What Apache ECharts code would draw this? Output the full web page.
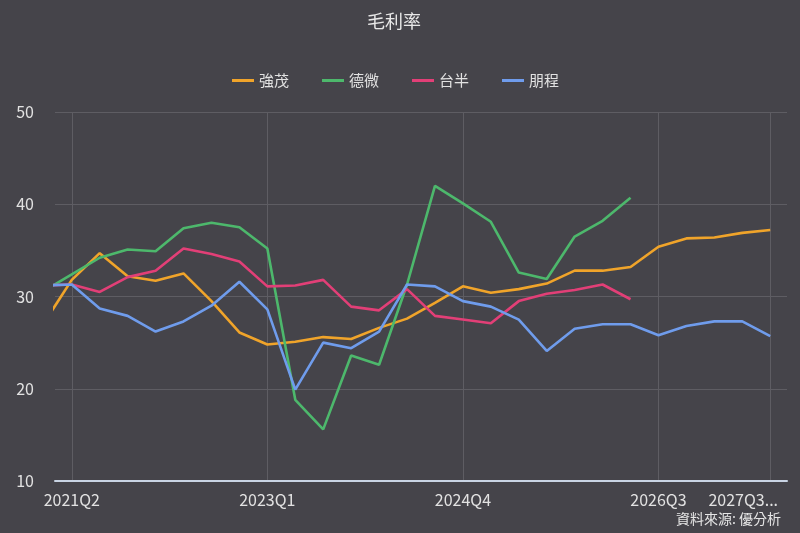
<!DOCTYPE html>
<html>
<head>
<meta charset="utf-8">
<script src="https://cdn.jsdelivr.net/npm/echarts@6/dist/echarts.min.js"></script>
<style>
    html, body { margin: 0; padding: 0; background: #45444a; }
    #chart { width: 800px; height: 533px; }
</style>
</head>
<body>
<div id="chart"></div>
<script>
    // quarters, the first one (2021Q1) sits just left of the axis start and gets clipped
    var quarters = [
        '2021Q1', '2021Q2', '2021Q3', '2021Q4',
        '2022Q1', '2022Q2', '2022Q3', '2022Q4',
        '2023Q1', '2023Q2', '2023Q3', '2023Q4',
        '2024Q1', '2024Q2', '2024Q3', '2024Q4',
        '2025Q1', '2025Q2', '2025Q3', '2025Q4',
        '2026Q1', '2026Q2', '2026Q3', '2026Q4',
        '2027Q1', '2027Q2', '2027Q3'
    ];
    var seriesNames = ['強茂', '德微', '台半', '朋程'];
    var panjit = [27.1, 31.8, 34.7, 32.2, 31.7, 32.5, 29.5, 26.1, 24.8, 25.1, 25.6, 25.4, 26.6, 27.6,
        29.3, 31.1, 30.4, 30.8, 31.4, 32.8, 32.8, 33.2, 35.4, 36.3, 36.4, 36.9, 37.2];
    var diodes = [30.6, 32.4, 34.2, 35.1, 34.9, 37.4, 38.0, 37.5, 35.2, 18.8, 15.6, 23.6, 22.6, 31.3,
        42.0, 40.1, 38.1, 32.6, 31.9, 36.5, 38.2, 40.7, null, null, null, null, null];
    var taiwanSemi = [31.2, 31.3, 30.5, 32.1, 32.8, 35.2, 34.6, 33.8, 31.1, 31.2, 31.8, 28.9, 28.5, 30.8,
        27.9, 27.5, 27.1, 29.5, 30.3, 30.7, 31.3, 29.7, null, null, null, null, null];
    var actron = [31.2, 31.3, 28.7, 27.9, 26.2, 27.3, 29.0, 31.6, 28.6, 19.9, 25.0, 24.4, 26.2, 31.3,
        31.1, 29.5, 28.9, 27.5, 24.1, 26.5, 27.0, 27.0, 25.8, 26.8, 27.3, 27.3, 25.7];
    var xTickQuarters = ['2021Q2', '2023Q1', '2024Q4', '2026Q3', '2027Q3'];
    var xTickLabels = ['2021Q2', '2023Q1', '2024Q4', '2026Q3', '2027Q3...'];
    var yTicks = [10, 20, 30, 40, 50];
    var colors = ['#f0a42a', '#4db86c', '#e23f77', '#6f9cec'];

    var origin = quarters.indexOf('2021Q2');
    var tickPos = xTickQuarters.map(function (q) { return quarters.indexOf(q) - origin; });
    var lastPos = tickPos[tickPos.length - 1];

    function toPoints(values) {
        var pts = [];
        values.forEach(function (v, i) {
            if (v != null) pts.push([i - origin, v]);
        });
        return pts;
    }

    var allValues = [panjit, diodes, taiwanSemi, actron];
    var chart = echarts.init(document.getElementById('chart'));
    var font = '"Noto Sans CJK TC", "Noto Sans", sans-serif';

    var option = {
        backgroundColor: '#45444a',
        color: colors,
        textStyle: {fontFamily: font},
        title: [{
            text: '毛利率',
            left: 362,
            top: 7,
            textStyle: {color: '#e8e8e8', fontSize: 18, fontWeight: 'normal', fontFamily: font}
        }, {
            text: '資料來源: 優分析',
            right: 14,
            bottom: 2,
            textStyle: {color: '#e6e6e6', fontSize: 14, fontWeight: 'normal', fontFamily: font}
        }],
        legend: {
            data: seriesNames,
            top: 68,
            left: 227,
            icon: 'rect',
            itemWidth: 22,
            itemHeight: 3,
            itemGap: 33,
            textStyle: {color: '#e2e2e2', fontSize: 15, fontFamily: font}
        },
        grid: {left: 55, right: 13, top: 112, bottom: 52},
        xAxis: {
            type: 'value',
            min: -0.6,
            max: 25.6,
            axisLine: {show: true, onZero: false, lineStyle: {color: '#c9d4e4', width: 2}},
            axisTick: {show: false, customValues: tickPos},
            axisLabel: {
                customValues: tickPos,
                color: '#e2e2e2',
                fontSize: 16,
                margin: 11,
                fontFamily: font,
                formatter: function (v) {
                    var k = tickPos.indexOf(Math.round(v));
                    if (k < 0) return '';
                    if (tickPos[k] === lastPos) return '{last|' + xTickLabels[k] + '}';
                    return xTickLabels[k];
                },
                rich: {
                    last: {padding: [0, 54, 0, 0], fontSize: 16, color: '#e2e2e2', fontFamily: font}
                }
            },
            splitLine: {show: true, lineStyle: {color: '#5e5d63', width: 1}}
        },
        yAxis: {
            type: 'value',
            min: yTicks[0],
            max: yTicks[yTicks.length - 1],
            interval: 10,
            axisLine: {show: false},
            axisTick: {show: false},
            axisLabel: {color: '#e2e2e2', fontSize: 16, margin: 21, fontFamily: font},
            splitLine: {lineStyle: {color: '#5e5d63', width: 1}}
        },
        series: seriesNames.map(function (name, k) {
            return {
                name: name,
                type: 'line',
                data: toPoints(allValues[k]),
                showSymbol: false,
                symbol: 'none',
                clip: true,
                lineStyle: {width: 2.6, color: colors[k]},
                itemStyle: {color: colors[k]}
            };
        })
    };
    chart.setOption(option);
</script>
</body>
</html>
